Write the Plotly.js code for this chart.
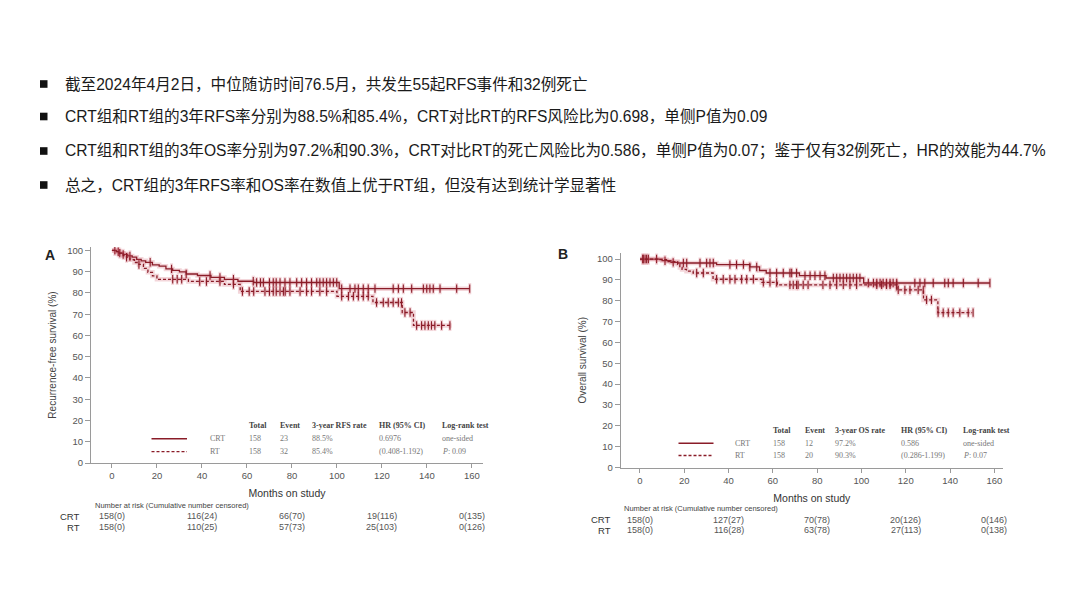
<!DOCTYPE html>
<html>
<head>
<meta charset="utf-8">
<script src="https://cdn.plot.ly/plotly-3.0.1.min.js"></script>
<style>
html,body{margin:0;padding:0;background:#fff;}
#chart{width:1080px;height:608px;}
</style>
</head>
<body>
<div id="chart"></div>
<script>
// ---------------- data ----------------
const bulletTexts = [
  "截至2024年4月2日，中位随访时间76.5月，共发生55起RFS事件和32例死亡",
  "CRT组和RT组的3年RFS率分别为88.5%和85.4%，CRT对比RT的RFS风险比为0.698，单侧P值为0.09",
  "CRT组和RT组的3年OS率分别为97.2%和90.3%，CRT对比RT的死亡风险比为0.586，单侧P值为0.07；鉴于仅有32例死亡，HR的效能为44.7%",
  "总之，CRT组的3年RFS率和OS率在数值上优于RT组，但没有达到统计学显著性"
];

const xTicks = [0, 20, 40, 60, 80, 100, 120, 140, 160];
const yTicks = [0, 10, 20, 30, 40, 50, 60, 70, 80, 90, 100];
const riskTimes = [0, 40, 80, 120, 160];
const groups = ["CRT", "RT"];

// Panel A: recurrence-free survival
const A_CRT_t = [0, 2, 3, 5, 7, 9, 11, 13, 15, 18, 21, 24, 27, 30, 33, 38, 44, 50, 56, 63, 101];
const A_CRT_s = [100, 99.4, 98.7, 98.1, 97.4, 96.8, 95.8, 95.1, 94.4, 93.2, 92.6, 91.3, 90.6, 89.9, 88.9, 88.2, 87.3, 86.4, 85.5, 84.9, 82.0];
const A_CRT_end = 159;
const A_CRT_cens = [1.3, 2.8, 5, 8, 17, 26.5, 33, 43.6, 48, 54, 62.8, 64.3, 66, 67.3, 70, 71.7, 73, 74.7, 76.9, 79.1, 82.1, 84.3, 86.5, 88.7, 91, 92.4, 93.9, 95.4, 96.9, 98.4, 99.9, 102.1, 105.8, 108, 109.5, 111.7, 113.9, 116.9, 125, 127.3, 129.5, 133.2, 138.4, 139.9, 141.3, 142.8, 145.8, 153.2, 159];

const A_RT_t = [0, 2, 3.5, 5, 6.5, 8, 10, 12, 14, 16, 18, 20, 34, 50, 57, 100, 116, 129, 134];
const A_RT_s = [100, 99.4, 98.7, 97.5, 96.8, 95.6, 94.3, 93.4, 91.5, 89.7, 88.0, 86.4, 85.4, 84.0, 80.7, 78.4, 75.5, 70.8, 64.7];
const A_RT_end = 151;
const A_RT_cens = [3.5, 6.5, 12, 27, 29, 31, 39, 42, 48, 54, 58, 61, 63, 68, 70, 73, 77, 71.7, 74.7, 76.2, 79.1, 83.6, 86.5, 88.7, 92.4, 95.4, 102.1, 105.1, 107.3, 109.5, 111.7, 113.9, 117.6, 120.6, 122.8, 125, 127.3, 128.7, 130.2, 132.5, 135.4, 137.6, 139.1, 140.6, 142, 143.5, 146.5, 150.2];

const A_total = ["158", "158"];
const A_event = ["23", "32"];
const A_rate = ["88.5%", "85.4%"];
const A_hr = ["0.6976", "(0.408-1.192)"];
const A_test = ["one-sided", "<i>P</i>: 0.09"];
const A_riskCRT = ["158(0)", "116(24)", "66(70)", "19(116)", "0(135)"];
const A_riskRT = ["158(0)", "110(25)", "57(73)", "25(103)", "0(126)"];

// Panel B: overall survival
const B_CRT_t = [0, 10, 14, 17, 34.6, 49.6, 54, 57, 72, 84, 101];
const B_CRT_s = [100, 99.2, 98.4, 98.1, 97.3, 96.2, 94.5, 93.3, 92.0, 90.9, 88.5];
const B_CRT_end = 158;
const B_CRT_cens = [1.2, 2.3, 3.8, 7.5, 11.3, 15, 19.6, 21.1, 27.1, 30.1, 31.6, 33.1, 40.6, 43.6, 46.7, 49.6, 52.7, 58.7, 61.7, 64.7, 67.7, 68.5, 70.7, 74.5, 76.8, 79, 81.3, 83.5, 87.3, 88.8, 90.3, 91.8, 93.3, 94.8, 96.3, 97.8, 99.3, 103.1, 105.4, 106.9, 108.4, 109.8, 111.3, 112.9, 114.3, 115.9, 124.1, 126.4, 128.6, 132.4, 137.6, 139.2, 141.4, 146, 152.7, 158];

const B_RT_t = [0, 8, 12, 17, 18, 19, 21, 24, 33, 55, 62, 116, 128, 134.5];
const B_RT_s = [100, 99.7, 98.8, 97.5, 96.0, 95.0, 94.2, 93.3, 90.3, 88.8, 87.6, 85.2, 80.4, 74.3];
const B_RT_end = 150;
const B_RT_cens = [1.5, 3, 25.6, 28.6, 34.6, 37.6, 40.6, 42.9, 45.9, 48.2, 51.2, 55.7, 58.7, 61.7, 67.7, 69.2, 70.7, 71.4, 73.7, 75.9, 82.6, 85.8, 88.8, 91.8, 94.8, 97.8, 106.9, 109.1, 111.3, 112.9, 115.9, 116.6, 119.6, 121.9, 125.6, 127.9, 129.4, 131.6, 134.6, 136.9, 139.2, 141.4, 144.4, 148.2, 150.4];

const B_total = ["158", "158"];
const B_event = ["12", "20"];
const B_rate = ["97.2%", "90.3%"];
const B_hr = ["0.586", "(0.286-1.199)"];
const B_test = ["one-sided", "<i>P</i>: 0.07"];
const B_riskCRT = ["158(0)", "127(27)", "70(78)", "20(126)", "0(146)"];
const B_riskRT = ["158(0)", "116(28)", "63(78)", "27(113)", "0(138)"];

// ---------------- helpers ----------------
const W = 1080, H = 608;
const px = v => v / W;
const py = v => 1 - v / H;
const LINE = "#8a1c28";
const HALO = "rgba(200,70,85,0.22)";
const SANS = "Liberation Sans, Arial, Noto Sans CJK SC, sans-serif";
const SERIF = "Liberation Serif, Times New Roman, serif";

function stepAt(ts, ss, t) {
  let v = ss[0];
  for (let i = 0; i < ts.length; i++) if (ts[i] <= t) v = ss[i];
  return v;
}

function kmTraces(xa, ya, ts, ss, end, cens, dash, name) {
  const x = ts.concat([end]);
  const y = ss.concat([ss[ss.length - 1]]);
  const cy = cens.map(t => stepAt(ts, ss, t));
  return [
    {x: x, y: y, xaxis: xa, yaxis: ya, type: "scatter", mode: "lines", line: {shape: "hv", color: HALO, width: 4.5}, hoverinfo: "skip", showlegend: false},
    {x: cens, y: cy, xaxis: xa, yaxis: ya, type: "scatter", mode: "markers", marker: {symbol: "line-ns-open", size: 8, color: HALO, line: {color: HALO, width: 3}}, hoverinfo: "skip", showlegend: false},
    {x: x, y: y, xaxis: xa, yaxis: ya, type: "scatter", mode: "lines", name: name, line: {shape: "hv", color: LINE, width: 1.3, dash: dash}, showlegend: false},
    {x: cens, y: cy, xaxis: xa, yaxis: ya, type: "scatter", mode: "markers", name: name + " censored", marker: {symbol: "line-ns-open", size: 6, color: LINE, line: {color: LINE, width: 1.1}}, showlegend: false}
  ];
}

const data = [].concat(
  kmTraces("x", "y", A_CRT_t, A_CRT_s, A_CRT_end, A_CRT_cens, "solid", "CRT"),
  kmTraces("x", "y", A_RT_t, A_RT_s, A_RT_end, A_RT_cens, "3px,2px", "RT"),
  kmTraces("x2", "y2", B_CRT_t, B_CRT_s, B_CRT_end, B_CRT_cens, "solid", "CRT"),
  kmTraces("x2", "y2", B_RT_t, B_RT_s, B_RT_end, B_RT_cens, "3px,2px", "RT")
);

function xAxis(domain, range, anchor) {
  return {
    domain: domain, range: range, anchor: anchor, tickvals: xTicks,
    showline: true, linecolor: "#9a9a9a", linewidth: 1, ticks: "outside", ticklen: 4, tickcolor: "#9a9a9a",
    tickfont: {family: SANS, size: 9.5, color: "#555"}, showgrid: false, zeroline: false,
    title: {text: "Months on study", font: {family: SANS, size: 10.5, color: "#333"}, standoff: 9}
  };
}
function yAxis(domain, range, anchor, title) {
  return {
    domain: domain, range: range, anchor: anchor, tickvals: yTicks,
    showline: true, linecolor: "#9a9a9a", linewidth: 1, ticks: "outside", ticklen: 5, tickcolor: "#9a9a9a",
    tickfont: {family: SANS, size: 9.5, color: "#555"}, showgrid: false, zeroline: false,
    title: {text: title, font: {family: SANS, size: 10, color: "#444"}, standoff: 8}
  };
}

const annotations = [];
const shapes = [];

// bullets
const bulletY = [84, 116.5, 151, 185];
bulletTexts.forEach((t, i) => {
  shapes.push({type: "rect", xref: "paper", yref: "paper", x0: px(40), x1: px(47.5), y0: py(bulletY[i] + 3.8), y1: py(bulletY[i] - 3.8), fillcolor: "#111", line: {width: 0}});
  annotations.push({xref: "paper", yref: "paper", x: px(63), y: py(bulletY[i]), xanchor: "left", yanchor: "middle", text: t, showarrow: false, font: {family: SANS, size: 15.6, color: "#1a1a1a"}});
});

// panel letters
annotations.push({xref: "paper", yref: "paper", x: px(43), y: py(255), text: "<b>A</b>", showarrow: false, font: {family: SANS, size: 14, color: "#222"}});
annotations.push({xref: "paper", yref: "paper", x: px(563), y: py(254), text: "<b>B</b>", showarrow: false, font: {family: SANS, size: 14, color: "#222"}});

// inner tables
function innerTable(cfg) {
  const hdr = ["Total", "Event", cfg.rateHdr, "HR (95% CI)", "Log-rank test"];
  const cols = [cfg.cTotal, cfg.cEvent, cfg.cRate, cfg.cHr, cfg.cTest];
  hdr.forEach((h, i) => annotations.push({xref: "paper", yref: "paper", x: px(cols[i]), y: py(cfg.yH), xanchor: "left", yanchor: "middle", text: "<b>" + h + "</b>", showarrow: false, font: {family: SERIF, size: 8, color: "#444"}}));
  const rowsY = [cfg.y1, cfg.y2];
  groups.forEach((g, r) => {
    const vals = [g, cfg.total[r], cfg.event[r], cfg.rate[r], cfg.hr[r], cfg.test[r]];
    const xs = [cfg.cName].concat(cols);
    vals.forEach((v, i) => annotations.push({xref: "paper", yref: "paper", x: px(xs[i]), y: py(rowsY[r]), xanchor: "left", yanchor: "middle", text: v, showarrow: false, font: {family: SERIF, size: 8, color: "#777"}}));
  });
  shapes.push({type: "line", xref: "paper", yref: "paper", x0: px(cfg.l0), x1: px(cfg.l1), y0: py(cfg.y1), y1: py(cfg.y1), line: {color: LINE, width: 1.6}});
  shapes.push({type: "line", xref: "paper", yref: "paper", x0: px(cfg.l0), x1: px(cfg.l1), y0: py(cfg.y2), y1: py(cfg.y2), line: {color: LINE, width: 1.3, dash: "3px,2px"}});
}
innerTable({rateHdr: "3-year RFS rate", total: A_total, event: A_event, rate: A_rate, hr: A_hr, test: A_test,
  cName: 208, cTotal: 246.5, cEvent: 278, cRate: 310, cHr: 376.5, cTest: 440, yH: 425.5, y1: 438.7, y2: 451.7, l0: 151.5, l1: 187});
innerTable({rateHdr: "3-year OS rate", total: B_total, event: B_event, rate: B_rate, hr: B_hr, test: B_test,
  cName: 733, cTotal: 771, cEvent: 802.5, cRate: 833, cHr: 899, cTest: 961, yH: 430.5, y1: 443.3, y2: 455.5, l0: 678.5, l1: 713.5});

// risk tables
function riskTable(xa, nameX, hdrX, yHdr, y1, y2, crt, rt) {
  annotations.push({xref: "paper", yref: "paper", x: px(hdrX), y: py(yHdr), xanchor: "left", yanchor: "middle", text: "Number at risk (Cumulative number censored)", showarrow: false, font: {family: SANS, size: 7.5, color: "#444"}});
  annotations.push({xref: "paper", yref: "paper", x: px(nameX), y: py(y1), xanchor: "right", yanchor: "middle", text: groups[0], showarrow: false, font: {family: SANS, size: 9.5, color: "#333"}});
  annotations.push({xref: "paper", yref: "paper", x: px(nameX), y: py(y2), xanchor: "right", yanchor: "middle", text: groups[1], showarrow: false, font: {family: SANS, size: 9.5, color: "#333"}});
  riskTimes.forEach((t, i) => {
    annotations.push({xref: xa, yref: "paper", x: t, y: py(y1), xanchor: "center", yanchor: "middle", text: crt[i], showarrow: false, font: {family: SANS, size: 9, color: "#555"}});
    annotations.push({xref: xa, yref: "paper", x: t, y: py(y2), xanchor: "center", yanchor: "middle", text: rt[i], showarrow: false, font: {family: SANS, size: 9, color: "#555"}});
  });
}
riskTable("x", 82, 93, 505, 516, 527, A_riskCRT, A_riskRT);
riskTable("x2", 613, 621.5, 508.5, 519.5, 530, B_riskCRT, B_riskRT);

const layout = {
  width: W, height: H, margin: {l: 0, r: 0, t: 0, b: 0},
  paper_bgcolor: "#fff", plot_bgcolor: "rgba(0,0,0,0)", showlegend: false,
  xaxis: xAxis([px(91), px(483)], [-9.3, 164.9], "y"),
  yaxis: yAxis([py(463), py(247)], [0, 101.6], "x", "Recurrence-free survival (%)"),
  xaxis2: xAxis([px(620.7), px(1003)], [-8.7, 163.9], "y2"),
  yaxis2: yAxis([py(467.5), py(253)], [0, 102.9], "x2", "Overall survival (%)"),
  annotations: annotations, shapes: shapes
};

Plotly.newPlot("chart", data, layout, {staticPlot: true, displayModeBar: false});
</script>
</body>
</html>
